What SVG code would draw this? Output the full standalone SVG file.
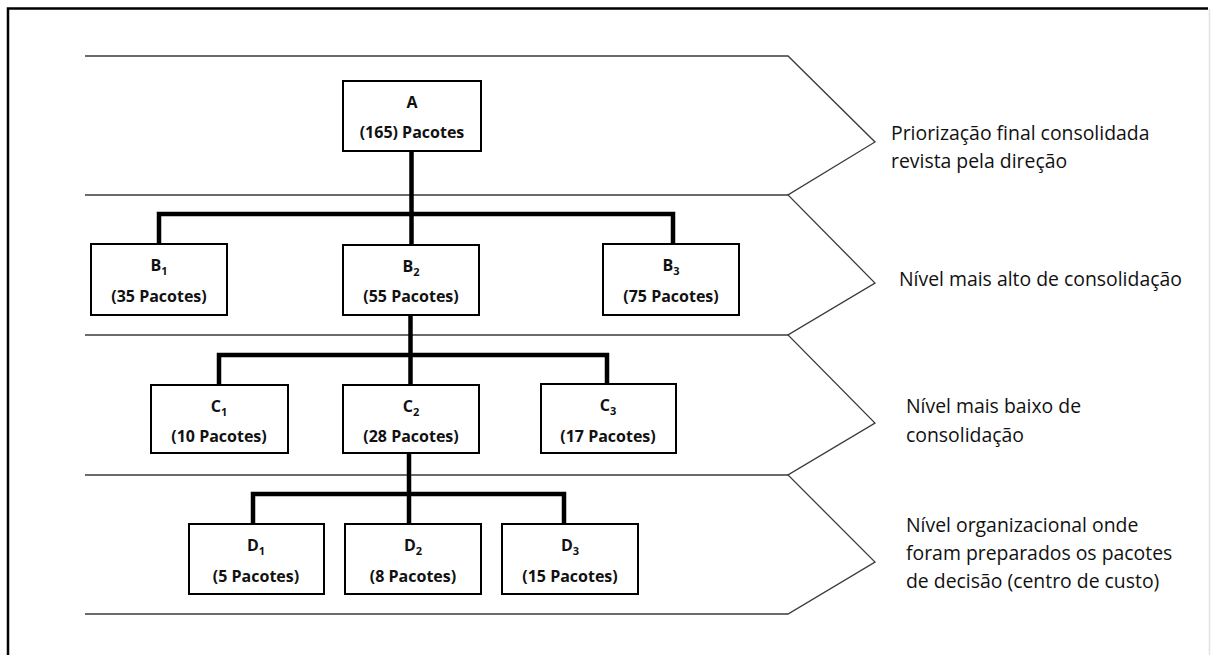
<svg xmlns="http://www.w3.org/2000/svg" width="1216" height="655" viewBox="0 0 1216 655">
<style>
.band{fill:none;stroke:#3a3a3a;stroke-width:1.3}
.box{fill:#fff;stroke:#000;stroke-width:2}
.nt{font-family:"Open Sans","Liberation Sans",sans-serif;font-weight:bold;font-size:16px;fill:#111;text-anchor:middle}
.sub{font-size:11px}
.lbl{font-family:"Open Sans","Liberation Sans",sans-serif;font-size:19.4px;fill:#111}
.conn{fill:none;stroke:#000;stroke-width:4.5;stroke-linejoin:miter;stroke-linecap:butt}
</style>
<rect x="0" y="0" width="1216" height="655" fill="#fff"/>
<g id="frame">
<path d="M8,655 V8.5 H1208" fill="none" stroke="#000" stroke-width="2.5"/>
<line x1="1209.5" y1="9" x2="1209.5" y2="655" stroke="#e2e2e2" stroke-width="1.5"/>
</g>
<g id="bands">
<path class="band" d="M85,56 H788 L875,142 L788,195 L875,283 L788,335 L875,423 L788,475 L875,562 L788,614 H85"/>
<line class="band" x1="85" y1="195" x2="788" y2="195"/>
<line class="band" x1="85" y1="335" x2="788" y2="335"/>
<line class="band" x1="85" y1="475" x2="788" y2="475"/>
</g>
<g id="connectors">
<path class="conn" d="M411.5,151 V245"/>
<path class="conn" d="M159,244 V214 H673 V244"/>
<path class="conn" d="M410.5,315 V385"/>
<path class="conn" d="M219,385 V355 H607 V384"/>
<path class="conn" d="M409,453 V524"/>
<path class="conn" d="M253,524 V494 H564 V524"/>
</g>
<g id="node-A">
<rect class="box" x="343" y="81" width="138" height="70"/>
<text class="nt" x="412" y="108">A</text>
<text class="nt" x="412" y="138">(165) Pacotes</text>
</g>
<g id="node-B1">
<rect class="box" x="91" y="244" width="136" height="71"/>
<text class="nt" x="159" y="271">B<tspan class="sub" dy="4">1</tspan></text>
<text class="nt" x="159" y="302">(35 Pacotes)</text>
</g>
<g id="node-B2">
<rect class="box" x="343" y="245" width="136" height="70"/>
<text class="nt" x="411" y="272">B<tspan class="sub" dy="4">2</tspan></text>
<text class="nt" x="411" y="302">(55 Pacotes)</text>
</g>
<g id="node-B3">
<rect class="box" x="603" y="244" width="136" height="71"/>
<text class="nt" x="671" y="271">B<tspan class="sub" dy="4">3</tspan></text>
<text class="nt" x="671" y="302">(75 Pacotes)</text>
</g>
<g id="node-C1">
<rect class="box" x="151" y="385" width="137" height="68"/>
<text class="nt" x="219" y="412">C<tspan class="sub" dy="4">1</tspan></text>
<text class="nt" x="219" y="442">(10 Pacotes)</text>
</g>
<g id="node-C2">
<rect class="box" x="343" y="385" width="136" height="68"/>
<text class="nt" x="411" y="412">C<tspan class="sub" dy="4">2</tspan></text>
<text class="nt" x="411" y="442">(28 Pacotes)</text>
</g>
<g id="node-C3">
<rect class="box" x="541" y="384" width="135" height="69"/>
<text class="nt" x="608" y="411">C<tspan class="sub" dy="4">3</tspan></text>
<text class="nt" x="608" y="442">(17 Pacotes)</text>
</g>
<g id="node-D1">
<rect class="box" x="189" y="524" width="135" height="70"/>
<text class="nt" x="256" y="551">D<tspan class="sub" dy="4">1</tspan></text>
<text class="nt" x="256" y="582">(5 Pacotes)</text>
</g>
<g id="node-D2">
<rect class="box" x="345" y="524" width="136" height="70"/>
<text class="nt" x="413" y="551">D<tspan class="sub" dy="4">2</tspan></text>
<text class="nt" x="413" y="582">(8 Pacotes)</text>
</g>
<g id="node-D3">
<rect class="box" x="502" y="524" width="136" height="70"/>
<text class="nt" x="570" y="551">D<tspan class="sub" dy="4">3</tspan></text>
<text class="nt" x="570" y="582">(15 Pacotes)</text>
</g>
<g id="labels">
<text class="lbl" x="891" y="140">Priorização final consolidada</text>
<text class="lbl" x="891" y="168">revista pela direção</text>
<text class="lbl" x="899" y="286">Nível mais alto de consolidação</text>
<text class="lbl" x="906" y="413">Nível mais baixo de</text>
<text class="lbl" x="906" y="442">consolidação</text>
<text class="lbl" x="906" y="532">Nível organizacional onde</text>
<text class="lbl" x="906" y="560">foram preparados os pacotes</text>
<text class="lbl" x="906" y="588">de decisão (centro de custo)</text>
</g>
</svg>
